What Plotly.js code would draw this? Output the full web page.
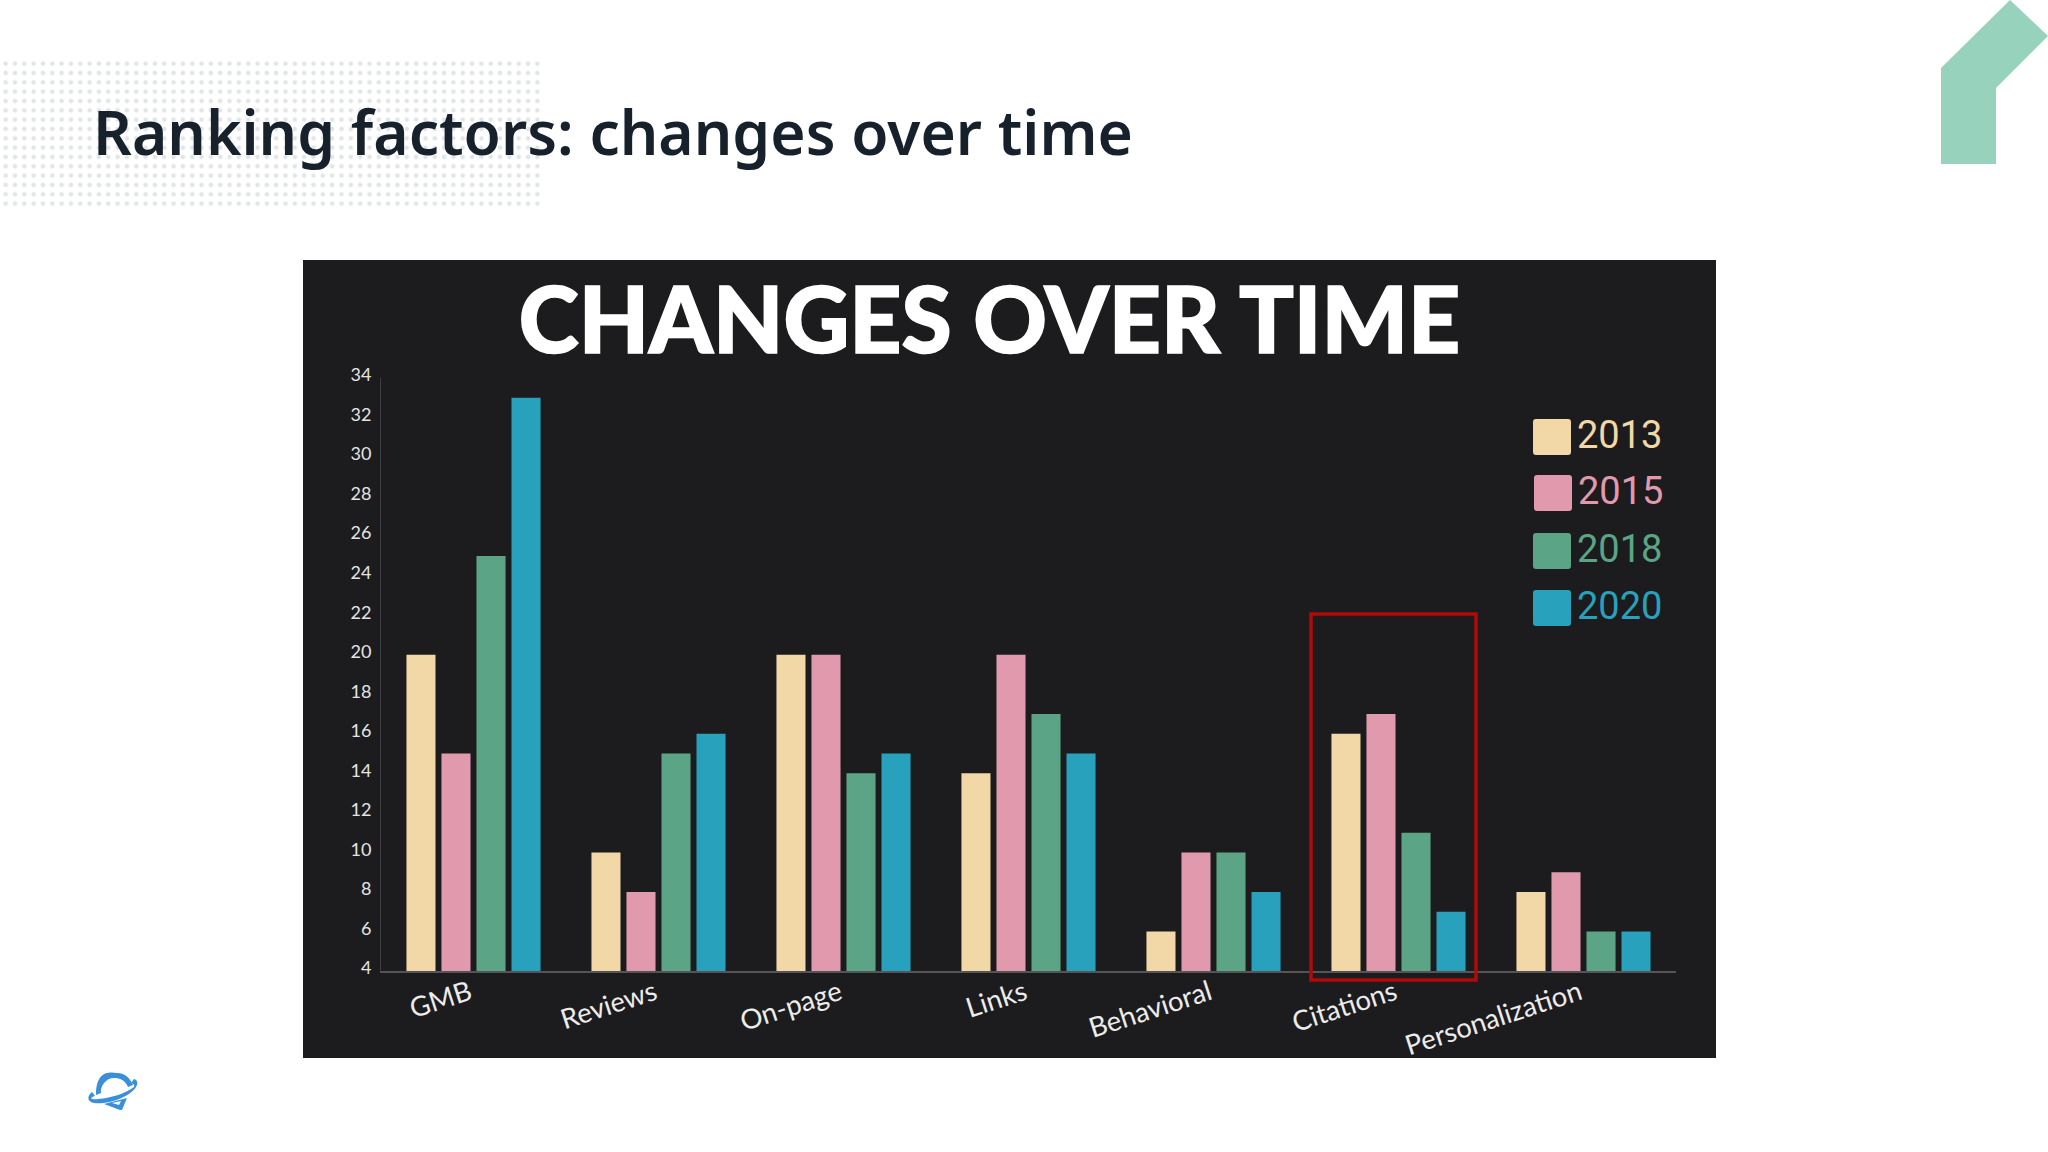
<!DOCTYPE html>
<html><head><meta charset="utf-8">
<script src="https://cdn.plot.ly/plotly-3.0.1.min.js"></script>
<style>
html,body{margin:0;padding:0;background:#fff;width:2048px;height:1152px;overflow:hidden}
#dots{position:absolute;left:1px;top:59px;width:543px;height:148px;
background-image:radial-gradient(circle at center,#e2e5e8 0,#e2e5e8 1.7px,rgba(255,255,255,0) 2.8px);background-size:9.33px 9.33px}
#chart{position:absolute;left:0;top:0;width:2048px;height:1152px}
.gtitle{stroke:#fff;stroke-width:1.6px}
</style></head><body>
<div id="dots"></div><div id="chart"></div>
<script>
const categories = ["GMB","Reviews","On-page","Links","Behavioral","Citations","Personalization"];
const years = ["2013","2015","2018","2020"];
const values2013 = [20,10,20,14,6,16,8];
const values2015 = [15,8,20,20,10,17,9];
const values2018 = [25,15,14,17,10,11,6];
const values2020 = [33,16,15,15,8,7,6];
const colors = ["#F2D8A7","#E19AAD","#5BA586","#27A1BC"];
const yTicks = [4,6,8,10,12,14,16,18,20,22,24,26,28,30,32,34];

const W=2048,H=1152,L=381,R=1676,T=378,B=971;
const px=x=>(x-L)/(R-L), py=y=>(B-y)/(B-T);
const pt=(x,y)=>px(x)+','+py(y);
const poly=pts=>'M'+pts.map(p=>pt(p[0],p[1])).join('L')+'Z';
const roundSq=(x0,y0,x1,y1,r)=>'M'+pt(x0+r,y0)+'L'+pt(x1-r,y0)+'Q'+pt(x1,y0)+' '+pt(x1,y0+r)+'L'+pt(x1,y1-r)+'Q'+pt(x1,y1)+' '+pt(x1-r,y1)+'L'+pt(x0+r,y1)+'Q'+pt(x0,y1)+' '+pt(x0,y1-r)+'L'+pt(x0,y0+r)+'Q'+pt(x0,y0)+' '+pt(x0+r,y0)+'Z';
const paperShape=o=>Object.assign({xref:'paper',yref:'paper',layer:'below',line:{width:0}},o);

const series=[values2013,values2015,values2018,values2020];
const traces=series.map((v,i)=>({type:'bar',name:years[i],x:categories,y:v,marker:{color:colors[i],line:{width:0}},hoverinfo:'x+y+name'}));

const legendX=[1533,1534,1533,1533], legendY=[419,475,533,590];
const shapes=[
 paperShape({type:'rect',x0:px(303),x1:px(1716),y0:py(260),y1:py(1058),fillcolor:'#1C1C1E'}),
 paperShape({type:'path',path:poly([[1941,68],[2010,0],[2048,36],[1996,88],[1996,164],[1941,164]]),fillcolor:'#96D2BC'}),
 // logo
 paperShape({type:'path',path:'M'+pt(96,1095)+'C'+pt(96,1070)+' '+pt(110,1072)+' '+pt(117,1073)+'C'+pt(126,1073)+' '+pt(130,1079)+' '+pt(133,1085)+'L'+pt(128,1087)+'C'+pt(125,1080)+' '+pt(120,1078)+' '+pt(114,1078)+'C'+pt(106,1078)+' '+pt(100,1086)+' '+pt(101,1093)+'Z',fillcolor:'#3A8FD9'}),
 paperShape({type:'path',path:'M'+pt(92,1092)+'L'+pt(95,1096)+'C'+pt(88,1098)+' '+pt(92,1100)+' '+pt(98,1099)+'C'+pt(112,1098)+' '+pt(126,1093)+' '+pt(134,1087)+'C'+pt(135,1084)+' '+pt(133,1084)+' '+pt(131,1083)+'L'+pt(134,1079)+'C'+pt(138,1080)+' '+pt(138,1084)+' '+pt(136,1087)+'C'+pt(130,1097)+' '+pt(108,1105)+' '+pt(94,1103)+'C'+pt(88,1102)+' '+pt(86,1097)+' '+pt(92,1092)+'Z',fillcolor:'#3A8FD9'}),
 paperShape({type:'path',path:poly([[104,1104],[127,1098],[122,1110],[120,1110]]),fillcolor:'#3A8FD9'}),
 paperShape({type:'path',path:poly([[112,1103],[121,1101],[119,1105]]),fillcolor:'#ffffff'}),
 // highlight box
 {type:'rect',xref:'paper',yref:'paper',layer:'above',x0:px(1311),x1:px(1476),y0:py(614),y1:py(980),line:{color:'#B00A0A',width:3.5},fillcolor:'rgba(0,0,0,0)'}
].concat(years.map((y,i)=>paperShape({type:'path',layer:'above',path:roundSq(legendX[i],legendY[i],legendX[i]+38,legendY[i]+36,3),fillcolor:colors[i]})));

const annotations=[
 {text:'Ranking factors: changes over time',xref:'paper',yref:'paper',x:px(91),y:py(132),xanchor:'left',yanchor:'middle',showarrow:false,
  font:{family:'"Noto Sans",sans-serif',size:60.5,color:'#16212C',weight:600}}
].concat(years.map((y,i)=>({text:y,xref:'paper',yref:'paper',x:px(legendX[i]+42),y:py(legendY[i]+16),xanchor:'left',yanchor:'middle',showarrow:false,
  font:{family:'Roboto,sans-serif',size:38,color:colors[i]}})));

const layout={
 width:W,height:H,paper_bgcolor:'rgba(0,0,0,0)',plot_bgcolor:'rgba(0,0,0,0)',
 margin:{l:L,r:W-R,t:T,b:H-B,pad:0},
 showlegend:false,barmode:'group',bargap:0.243,bargroupgap:0.17,
 title:{text:'CHANGES OVER TIME',x:989.5/W,xref:'container',xanchor:'center',y:1-321/H,yref:'container',yanchor:'middle',
  font:{family:'Lato,sans-serif',size:91,color:'#FFFFFF',weight:900}},
 xaxis:{type:'category',categoryorder:'array',categoryarray:categories,tickangle:-18,
  tickfont:{family:'Lato,sans-serif',size:27.5,color:'#ECECEC'},showline:true,linecolor:'#555558',linewidth:1.5,ticks:'',showgrid:false,zeroline:false,ticklabelstandoff:-6,ticklabelshift:-4},
 yaxis:{range:[4,34],tickmode:'array',tickvals:yTicks,ticktext:yTicks.map(String),
  tickfont:{family:'Lato,sans-serif',size:18,color:'#E4E4E4'},showline:true,linecolor:'#3E3E42',linewidth:1,ticks:'',showgrid:false,zeroline:false,ticklabelstandoff:5,ticklabelshift:-3},
 shapes,annotations
};
Plotly.newPlot('chart',traces,layout,{displayModeBar:false,staticPlot:true});
</script></body></html>
